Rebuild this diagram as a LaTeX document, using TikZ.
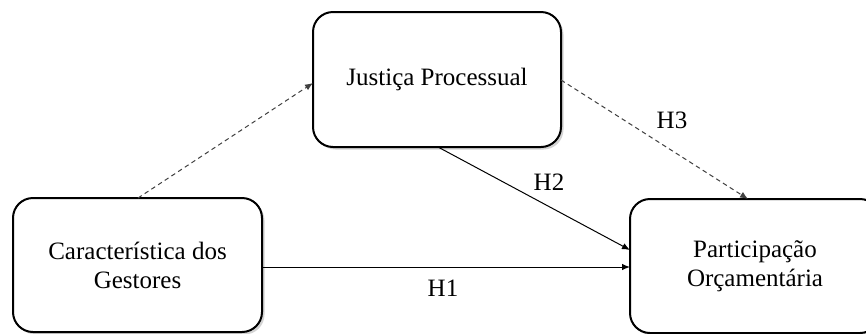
\documentclass[tikz,border=0pt]{standalone}
\usepackage{fontspec}
\setmainfont{Liberation Serif}
\usetikzlibrary{arrows.meta,shadows}
\begin{document}
\begin{tikzpicture}[x=1pt,y=-1pt,
  box/.style={draw=black,line width=2pt,rounded corners=20pt,fill=white,
    align=center,font=\fontsize{25}{29}\selectfont,
    drop shadow={shadow xshift=2.5pt,shadow yshift=-2.5pt,opacity=0.35,fill=gray}},
  link/.style={line width=1pt,-{Latex[length=8pt,width=6.5pt]}},
  dlink/.style={link,dash pattern=on 4.5pt off 3.5pt,draw=black!75},
  hlab/.style={font=\fontsize{25}{29}\selectfont,inner sep=0pt}]
  \useasboundingbox (0,0) rectangle (866,333);
  \path[clip] (0,0) rectangle (866,333);
  % three constructs
  \node[box,minimum width=249pt,minimum height=134pt] (cg) at (137.5,265) {Característica dos\\Gestores};
  \node[box,minimum width=248pt,minimum height=135pt] (jp) at (437,79.5) {Justiça Processual};
  \node[box,minimum width=250pt,minimum height=134pt] (po) at (755,266) {Participação\\Orçamentária};
  % anchor points on the box edges
  \coordinate (cgT) at (138,198);
  \coordinate (cgR) at (262,267);
  \coordinate (jpL) at (313,83);
  \coordinate (jpB) at (438,147);
  \coordinate (jpR) at (561,80);
  \coordinate (poT) at (748,199);
  \coordinate (poL1) at (630,267);
  \coordinate (poL2) at (630,250);
  % hypotheses
  \draw[dlink] (cgT) -- (jpL);
  \draw[link] (cgR) -- (poL1) node[hlab,pos=0.5,xshift=-3pt,yshift=-21pt] {H1};
  \draw[link] (jpB) -- (poL2) node[hlab,pos=0.5,xshift=15pt,yshift=16.5pt] {H2};
  \draw[dlink] (jpR) -- (poT) node[hlab,pos=0.5,xshift=17.5pt,yshift=19.5pt] {H3};
\end{tikzpicture}
\end{document}
